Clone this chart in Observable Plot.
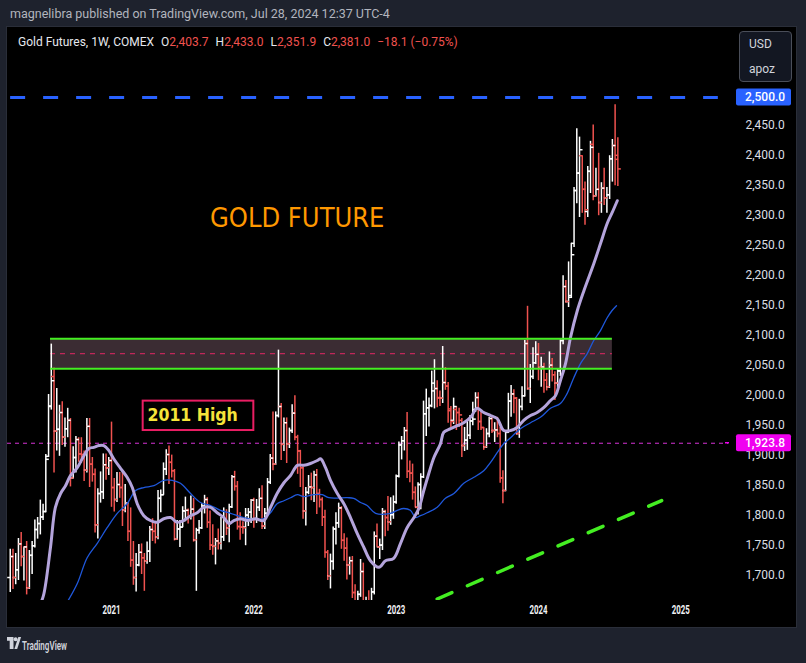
<!DOCTYPE html>
<html>
<head>
<meta charset="utf-8">
<script src="https://cdn.jsdelivr.net/npm/d3@7"></script>
<script src="https://cdn.jsdelivr.net/npm/@observablehq/plot@0.6"></script>
<style>
  html, body { margin:0; padding:0; background:#1e222d; }
  body { width:806px; height:663px; position:relative; overflow:hidden; font-family: Roboto, "Liberation Sans", sans-serif; }
  #pub { position:absolute; left:10px; top:6px; font-size:12.5px; color:#b2b5be; white-space:nowrap; }
  #frame { position:absolute; left:7px; top:27px; width:789px; height:600px; background:#000; outline:1px solid #2a2e39; }
  #frame svg { position:absolute; left:0; top:0; }
  #legend { position:absolute; left:11px; top:8px; font-size:12px; color:#e6e8ee; white-space:nowrap; z-index:2; }
  #legend .v { color:#f0524f; }
  #legend .g { margin-left:7px; }
  #cur { position:absolute; left:732px; top:4px; width:51px; height:49px; border:1px solid #4a4e59; border-radius:4px; background:#131722; color:#d1d4dc; font-size:12px; z-index:2; }
  #cur div { position:absolute; left:9px; }
  #footer { position:absolute; left:0; top:632px; }
</style>
</head>
<body>
<div id="pub">magnelibra published on TradingView.com, Jul 28, 2024 12:37 UTC-4</div>
<div id="frame">
  <div id="legend">Gold Futures, 1W, COMEX<span class="g">O</span><span class="v">2,403.7</span><span class="g">H</span><span class="v">2,433.0</span><span class="g">L</span><span class="v">2,351.9</span><span class="g">C</span><span class="v">2,381.0</span><span class="g v">−18.1 (−0.75%)</span></div>
  <div id="cur"><div style="top:5px">USD</div><div style="top:30px">apoz</div></div>
</div>
<svg id="footer" width="120" height="30">
  <g fill="#d1d4dc">
    <path d="M7 5h6.5v12h-3.8V8.8H7z"/>
    <circle cx="15.6" cy="7.2" r="2"/>
    <path d="M18.3 5h2.8l-3.9 12h-2.8z"/>
    <text x="22" y="18" font-size="13" font-weight="600" textLength="45" lengthAdjust="spacingAndGlyphs" font-family="Roboto, Liberation Sans, sans-serif">TradingView</text>
  </g>
</svg>
<script>
// ---------- data (weekly bars, first bar = week of 2020-04-20) ----------
const weekStart = "2020-04-20";
const open = [
1700,1735,1700,1713,1756,1735,1751,1683,1737,1753,1780,1790,1801,1810,1902,1986,2035,1944,1947,1975,1934,1948,1962,1866,1900,1930,1906,1905,1879,1952,1889,1872,1788,1840,1843,1888,1883,
1895,1850,1830,1855,1850,1813,1824,1777,1729,1700,1721,1742,1733,1728,1744,1780,1777,1768,1832,1838,1881,1905,1892,1878,1764,1781,1784,1811,1812,1801,1814,1763,1779,1783,1819,1830,1792,1754,1752,1761,1757,1768,1796,1783,1818,1868,1852,1785,1784,1784,1804,1809,
1829,1797,1817,1832,1786,1807,1859,1899,1889,1970,1985,1922,1958,1923,1945,1974,1934,1911,1883,1811,1842,1851,1850,1871,1840,1830,1801,1742,1703,1727,1781,1791,1816,1762,1749,1721,1728,1675,1655,1672,1710,1650,1656,1644,1676,1769,1751,1754,1810,1800,1793,1805,
1826,1869,1921,1928,1945,1877,1874,1842,1817,1855,1868,1973,1983,1987,2011,2015,2000,1999,2025,2019,1978,1962,1980,1975,1962,1920,1929,1937,1961,1980,2000,1960,1950,1918,1940,1965,1945,1946,1940,1866,1845,1942,1994,2006,1999,1940,1985,2003,2090,2015,2035,2058,
2072,2050,2051,2029,2018,2054,2038,2024,2044,2095,2185,2160,2170,2257,2345,2374,2403,2347,2310,2377,2422,2336,2347,2325,2349,2333,2338,2398,2420,2403.7];
const high = [
1747,1747,1740,1765,1775,1751,1760,1745,1760,1796,1800,1829,1822,1905,2005,2089,2049,2015,1987,1993,1966,1982,1965,1918,1935,1933,1933,1911,1965,1965,1900,1881,1848,1876,1906,1906,1900,
1959,1865,1875,1875,1875,1855,1825,1816,1760,1740,1755,1756,1740,1759,1785,1798,1790,1845,1846,1891,1913,1919,1904,1880,1795,1795,1818,1834,1814,1836,1832,1782,1795,1823,1837,1833,1811,1788,1765,1781,1800,1816,1813,1822,1870,1877,1860,1808,1793,1815,1815,1830,
1832,1830,1848,1853,1815,1865,1905,1976,1976,2079,1990,1966,1966,1949,1988,2003,1937,1912,1884,1850,1870,1874,1877,1880,1847,1833,1812,1745,1739,1784,1808,1824,1818,1773,1766,1734,1735,1688,1677,1730,1724,1667,1678,1682,1776,1789,1764,1815,1812,1835,1833,1836,
1871,1926,1935,1950,1975,1894,1889,1851,1858,1873,1994,2014,1999,2044,2063,2028,2011,2085,2050,2025,1985,1999,1985,1982,1965,1950,1960,1970,1992,2008,2008,1978,1950,1948,1967,1967,1958,1967,1950,1878,1945,2007,2020,2013,2000,1997,2018,2095,2152,2055,2083,2093,
2090,2067,2057,2040,2076,2065,2043,2047,2096,2203,2195,2226,2257,2350,2448,2434,2403,2359,2385,2427,2454,2382,2407,2358,2382,2350,2403,2430,2488,2433.0];
const low = [
1675,1680,1688,1695,1718,1694,1671,1680,1705,1749,1764,1771,1795,1808,1900,1979,1874,1911,1902,1920,1917,1933,1851,1864,1874,1892,1890,1860,1874,1850,1859,1774,1764,1824,1830,1862,1870,
1817,1809,1825,1832,1785,1808,1760,1717,1687,1676,1718,1705,1677,1722,1725,1760,1756,1763,1808,1837,1870,1855,1866,1761,1762,1750,1783,1793,1789,1796,1759,1677,1772,1780,1806,1782,1745,1737,1721,1746,1746,1760,1770,1758,1815,1844,1779,1762,1772,1753,1785,1790,
1782,1790,1810,1780,1780,1803,1855,1878,1887,1966,1895,1910,1890,1915,1940,1928,1872,1850,1797,1786,1838,1828,1825,1805,1816,1785,1732,1695,1681,1712,1754,1782,1747,1727,1696,1704,1665,1643,1626,1667,1642,1617,1640,1616,1671,1751,1730,1745,1768,1777,1787,1797,
1822,1866,1896,1911,1865,1858,1829,1816,1804,1813,1865,1935,1951,1983,1981,1983,1985,1990,2012,1957,1950,1955,1945,1950,1900,1910,1912,1930,1953,1975,1945,1945,1912,1915,1933,1940,1925,1933,1857,1823,1843,1940,1967,1973,1937,1932,1978,2001,2012,1990,2030,2055,
2028,2017,2007,2011,2015,2026,1995,2016,2035,2088,2157,2150,2165,2250,2323,2300,2307,2287,2300,2340,2328,2334,2303,2307,2320,2307,2330,2359,2353,2351.9];
const close = [
1735,1700,1713,1756,1735,1751,1683,1737,1753,1780,1790,1801,1810,1897,1985,2028,1944,1947,1975,1934,1948,1962,1866,1900,1930,1906,1905,1879,1952,1889,1872,1788,1840,1843,1888,1883,1895,
1850,1830,1855,1850,1813,1824,1777,1729,1700,1721,1742,1733,1728,1744,1780,1777,1768,1832,1838,1881,1905,1892,1878,1764,1781,1784,1811,1812,1801,1814,1763,1779,1783,1819,1830,1792,1754,1752,1761,1757,1768,1796,1783,1818,1868,1852,1785,1784,1783,1804,1809,1829,
1797,1817,1832,1786,1807,1859,1899,1889,1970,1985,1922,1958,1923,1945,1974,1934,1911,1883,1811,1842,1851,1850,1871,1840,1830,1801,1742,1703,1727,1781,1791,1816,1762,1749,1721,1728,1675,1655,1672,1710,1650,1656,1644,1676,1769,1751,1754,1810,1800,1793,1805,1826,
1869,1921,1928,1945,1877,1874,1842,1817,1855,1868,1973,1983,1986,2024,2015,1999,1999,2025,2019,1981,1960,1985,1975,1971,1920,1929,1937,1961,1964,2000,1960,1950,1918,1940,1965,1945,1946,1940,1866,1845,1942,1994,2006,1999,1940,1985,2003,2090,2015,2035,2058,2072,
2050,2051,2029,2018,2054,2038,2024,2045,2095,2185,2160,2167,2238,2345,2374,2413,2347,2313,2377,2417,2336,2347,2325,2349,2333,2338,2398,2420,2397,2381.0];

// moving averages (position in weeks since weekStart, price)
const ma20Week = [11.0,12.3,14.7,16.5,18.4,20.2,22.0,24.5,26.3,28.7,30.5,32.4,34.2,36.0,37.8,40.3,42.7,44.6,46.4,48.8,51.2,53.7,56.1,58.6,61.0,63.4,65.9,68.3,70.7,73.2,75.6,78.0,79.9,81.7,84.1,86.6,89.6,92.6,95.1,97.5,100.0,102.4,104.9,107.3,109.7,112.2,113.4,115.2,117.0,119.5,121.9,124.3,126.8,129.2,131.6,134.7,137.1,140.1,142.6,145.0,147.5,149.3,151.1,152.9,154.8,157.2,158.4,160.9,163.3,165.7,168.2,170.6,173.0,175.5,177.9,180.3,182.8,185.2,187.6,190.1,192.5,194.9,197.4,199.2,201.0,202.9,204.7,207.2,209.6,213.2,215.7,218.1,219.9,221.8];
const ma20Value = [1655,1673,1750,1817,1840,1853,1870,1883,1898,1915,1917,1920,1920,1912,1898,1882,1867,1850,1823,1803,1795,1792,1798,1800,1792,1795,1803,1808,1817,1817,1808,1800,1790,1795,1798,1795,1798,1795,1817,1840,1858,1870,1887,1887,1890,1895,1898,1883,1862,1840,1823,1800,1773,1750,1728,1717,1728,1732,1757,1783,1800,1815,1845,1873,1900,1923,1942,1948,1953,1958,1967,1982,1975,1970,1965,1945,1945,1950,1962,1970,1975,1983,1995,2003,2028,2057,2100,2145,2178,2223,2257,2290,2308,2328];
const ma50Week = [20.3,24.5,28.1,31.8,35.4,39.1,42.7,45.8,48.8,52.5,56.1,59.2,62.2,65.9,69.5,73.2,76.8,80.5,85.3,89.6,92.6,95.1,97.5,100.0,102.4,104.9,107.3,110.9,114.0,116.4,123.1,125.5,128.0,130.4,133.5,138.9,141.4,143.8,146.2,148.1,149.9,152.3,156.0,159.0,162.1,165.7,169.4,173.0,175.5,177.9,180.3,182.8,186.4,190.1,193.7,197.4,201.0,203.5,205.9,208.4,210.8,213.2,215.7,218.1,219.9,221.5];
const ma50Value = [1655,1690,1733,1757,1783,1807,1823,1845,1850,1853,1862,1862,1857,1840,1825,1820,1812,1807,1800,1797,1798,1808,1823,1828,1833,1838,1835,1838,1838,1833,1833,1832,1825,1820,1807,1807,1812,1815,1812,1800,1803,1808,1817,1832,1840,1857,1867,1878,1892,1908,1923,1933,1948,1958,1967,1982,1990,2007,2033,2057,2073,2095,2112,2133,2145,2153];

// axes
const yTickValues = [1700,1750,1800,1850,1900,1950,2000,2050,2100,2150,2200,2250,2300,2350,2400,2450];
const xTickDates = ["2021-01-04","2022-01-03","2023-01-02","2024-01-01","2024-12-30"];
const xTickLabels = ["2021","2022","2023","2024","2025"];
const xDomain = ["2020-04-13","2025-05-01"];
const yDomain = [1661.7, 2616.7];

// drawings
const targetLevel = 2500, targetFrom = "2020-04-21", targetTo = "2025-04-05";
const markLevel = 1923.8;
const zoneTop = 2098, zoneMid = 2073, zoneBottom = 2048, zoneFrom = "2020-08-01", zoneTo = "2024-07-08";
const trendDates = ["2023-04-17","2024-11-11"], trendPrices = [1664.2, 1828.3];
const titleText = "GOLD FUTURE", titleDate = "2022-04-24", titlePrice = 2299;
const noteText = "2011 High", noteDate = "2021-04-06", notePrice = 1969.5;
const noteBoxDates = ["2021-03-26","2022-01-03"], noteBoxPrices = [1945, 1994];

// ---------- build ----------
const D = s => new Date(s + "T00:00:00Z");
const t0 = D(weekStart);
const weekDate = k => new Date(+t0 + k * 7 * 864e5);
const bars = open.map((o, i) => ({date: weekDate(i), o, h: high[i], l: low[i], c: close[i]}));
const ma20 = ma20Week.map((k, i) => ({date: weekDate(k), v: ma20Value[i]}));
const ma50 = ma50Week.map((k, i) => ({date: weekDate(k), v: ma50Value[i]}));
const xTicks = xTickDates.map((d, i) => ({date: D(d), label: xTickLabels[i]}));
const trend = trendDates.map((d, i) => ({date: D(d), p: trendPrices[i]}));
const zone = {from: D(zoneFrom), to: D(zoneTo), top: zoneTop, bottom: zoneBottom};
const noteBox = {from: D(noteBoxDates[0]), to: D(noteBoxDates[1]), lo: noteBoxPrices[0], hi: noteBoxPrices[1]};

const UP = "#ffffff", DOWN = "#f0524f";
const col = d => d.c >= d.o ? UP : DOWN;
const tickL = {draw(ctx, size) { const r = Math.sqrt(size / Math.PI); ctx.moveTo(-r, 0); ctx.lineTo(0, 0); }};
const tickR = {draw(ctx, size) { const r = Math.sqrt(size / Math.PI); ctx.moveTo(0, 0); ctx.lineTo(r, 0); }};
const fmt = d3.format(",.1f");
const FONT = "Roboto, 'Liberation Sans', sans-serif";
const COND = "'DejaVu Sans Condensed', 'DejaVu Sans', sans-serif";

const plot = Plot.plot({
  width: 789, height: 600,
  marginLeft: 0, marginRight: 68, marginTop: 0, marginBottom: 27,
  x: {type: "utc", domain: xDomain.map(D), axis: null},
  y: {domain: yDomain, axis: null},
  color: {type: "identity"},
  style: {background: "#000", color: "#d1d4dc", fontFamily: FONT, fontSize: "12px"},
  marks: [
    Plot.rect([zone], {x1: "from", x2: "to", y1: "bottom", y2: "top", fill: "#3b2c33"}),
    Plot.ruleY([zoneMid], {x1: () => zone.from, x2: () => zone.to, stroke: "#c0285a", strokeWidth: 1.3, strokeDasharray: "5,5"}),
    Plot.ruleY([markLevel], {stroke: "#d633d6", strokeWidth: 1, strokeDasharray: "4,4"}),
    Plot.ruleX(bars, {x: "date", y1: "l", y2: "h", stroke: col, strokeWidth: 1.5, clip: true}),
    Plot.dot(bars, {x: "date", y: "o", symbol: tickL, r: 3, stroke: col, fill: "none", strokeWidth: 1.5, clip: true}),
    Plot.dot(bars, {x: "date", y: "c", symbol: tickR, r: 3, stroke: col, fill: "none", strokeWidth: 1.5, clip: true}),
    Plot.line(ma50, {x: "date", y: "v", stroke: "#1f58dc", strokeWidth: 1.3, curve: "catmull-rom", clip: true}),
    Plot.line(ma20, {x: "date", y: "v", stroke: "#b4a4dc", strokeWidth: 3, curve: "catmull-rom", clip: true}),
    Plot.ruleY([zoneTop, zoneBottom], {x1: () => zone.from, x2: () => zone.to, stroke: "#44ee22", strokeWidth: 2}),
    Plot.ruleY([targetLevel], {x1: () => D(targetFrom), x2: () => D(targetTo), stroke: "#2962ff", strokeWidth: 3, strokeDasharray: "15,18"}),
    Plot.line(trend, {x: "date", y: "p", stroke: "#44ee22", strokeWidth: 3.5, strokeDasharray: "16,17", clip: true}),
    Plot.rect([noteBox], {x1: "from", x2: "to", y1: "lo", y2: "hi", fill: "#000", stroke: "#e91e63", strokeWidth: 2}),
    Plot.text([noteText], {x: () => D(noteDate), y: () => notePrice, text: d => d, textAnchor: "start", fill: "#f5e43a", fontSize: 17.5, fontWeight: "bold", fontFamily: COND}),
    Plot.text([titleText], {x: () => D(titleDate), y: () => titlePrice, text: d => d, fill: "#ff9800", fontSize: 27, fontFamily: COND}),
    Plot.text(yTickValues, {y: d => d, text: d => fmt(d), frameAnchor: "right", dx: 17, dy: -2, textAnchor: "start", fill: "#dcdfe5", fontSize: 12}),
    Plot.text(xTicks, {x: "date", text: "label", frameAnchor: "bottom", dy: 13, fill: "#f0f1f4", fontSize: 13, fontWeight: 700})
  ]
});
document.getElementById("frame").prepend(plot);

// price tags on the right scale, placed with the plot's own y scale
const ys = plot.scale("y");
const svg = d3.select(plot);
const tags = [[targetLevel, "#2962ff"], [markLevel, "#f000f0"]];
for (const [v, c] of tags) {
  const y = ys.apply(v);
  const g = svg.append("g").attr("text-anchor", "start");
  if (c !== "#2962ff") g.append("line").attr("x1", 718).attr("x2", 722).attr("y1", y).attr("y2", y).attr("stroke", c).attr("stroke-width", 1.5);
  g.append("rect").attr("x", 729).attr("y", y - 8.5).attr("width", 55).attr("height", 17).attr("rx", 2).attr("fill", c);
  g.append("text").attr("x", 738).attr("y", y).attr("dy", "0.35em").attr("text-anchor", "start")
    .attr("fill", "#fff").attr("font-size", 12).attr("font-weight", 500).text(fmt(v));
}
// narrow time-axis labels
svg.selectAll("text").filter(function() { return /^20\d\d$/.test(this.textContent); })
  .attr("textLength", 18).attr("lengthAdjust", "spacingAndGlyphs");
</script>
</body>
</html>
